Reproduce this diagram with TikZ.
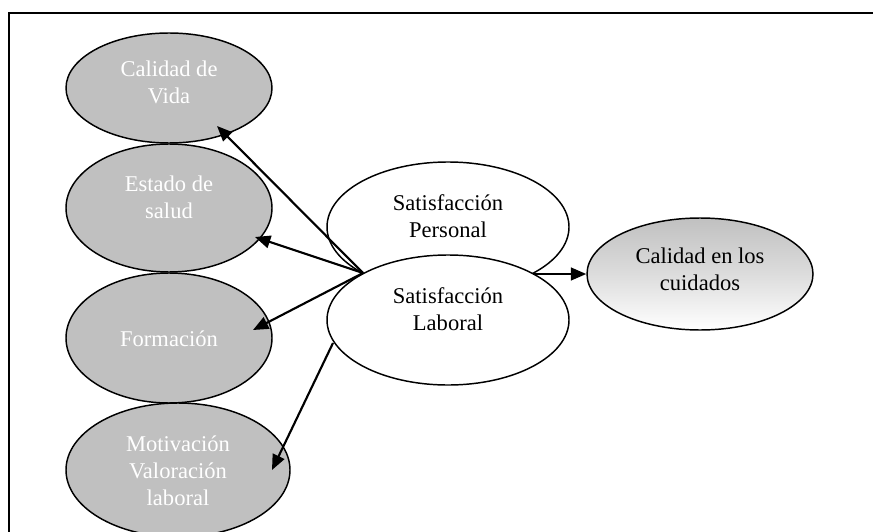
\documentclass[tikz,border=0pt]{standalone}
\usepackage{fontspec}
\setmainfont{Liberation Serif}
\usetikzlibrary{shapes.geometric,arrows.meta}
\definecolor{ellgray}{HTML}{C0C0C0}
\begin{document}
\begin{tikzpicture}[x=0.75pt,y=-0.75pt,
 ell/.style={draw=black,line width=1.1pt,ellipse,inner sep=0pt},
 grayell/.style={ell,fill=ellgray},
 whiteell/.style={ell,fill=white},
 lbl/.style={align=center,font=\fontsize{16.9}{20.2}\selectfont,inner sep=0pt},
 wlbl/.style={lbl,text=white},
 arr/.style={line width=1.6pt,-{Triangle[length=11.5pt,width=9.5pt]}}]
\clip (0,0) rectangle (873,531);
\draw[line width=1.5pt] (9,13) rectangle (900,560);
% gray ellipses
\node[grayell,minimum width=154.5pt,minimum height=82.5pt] (cv) at (169,88) {};
\node[grayell,minimum width=154.5pt,minimum height=96pt] (es) at (169,208) {};
\node[grayell,minimum width=154.5pt,minimum height=97.5pt] (fo) at (169,338) {};
\node[grayell,minimum width=168pt,minimum height=100.5pt] (mo) at (178,470) {};
\node[wlbl] (tcvl) at (169,82) {Calidad de\\Vida};
\node[wlbl] (tesl) at (169,197) {Estado de\\salud};
\node[wlbl] (tfol) at (169,339) {Formación};
\node[wlbl] (tmol) at (178,471) {Motivación\\Valoración\\laboral};
% white ellipses
\node[whiteell,minimum width=181.5pt,minimum height=97.5pt] (sp) at (448,227) {};
\node[whiteell,minimum width=181.5pt,minimum height=97.5pt] (sl) at (448,320) {};
\node[lbl] (tspl) at (448,216) {Satisfacción\\Personal};
\node[lbl] (tsll) at (448,309) {Satisfacción\\Laboral};
% gradient ellipse
\node[ell,top color=ellgray,bottom color=white,middle color=ellgray!55,minimum width=169.5pt,minimum height=84pt] (cu) at (700,274) {};
\node[lbl] (tcul) at (700,269) {Calidad en los\\cuidados};
% arrows
\coordinate (src) at (363,273);
\coordinate (src2) at (333,343);
\coordinate (src3) at (533,274);
\coordinate (tcv) at (217,126);
\coordinate (tes) at (255,237);
\coordinate (tfo) at (253,330);
\coordinate (tmo) at (272,470);
\draw[arr] (src) -- (tcv);
\draw[arr] (src) -- (tes);
\draw[arr] (src) -- (tfo);
\draw[arr] (src2) -- (tmo);
\draw[arr] (src3) -- (cu.west);
\end{tikzpicture}
\end{document}
